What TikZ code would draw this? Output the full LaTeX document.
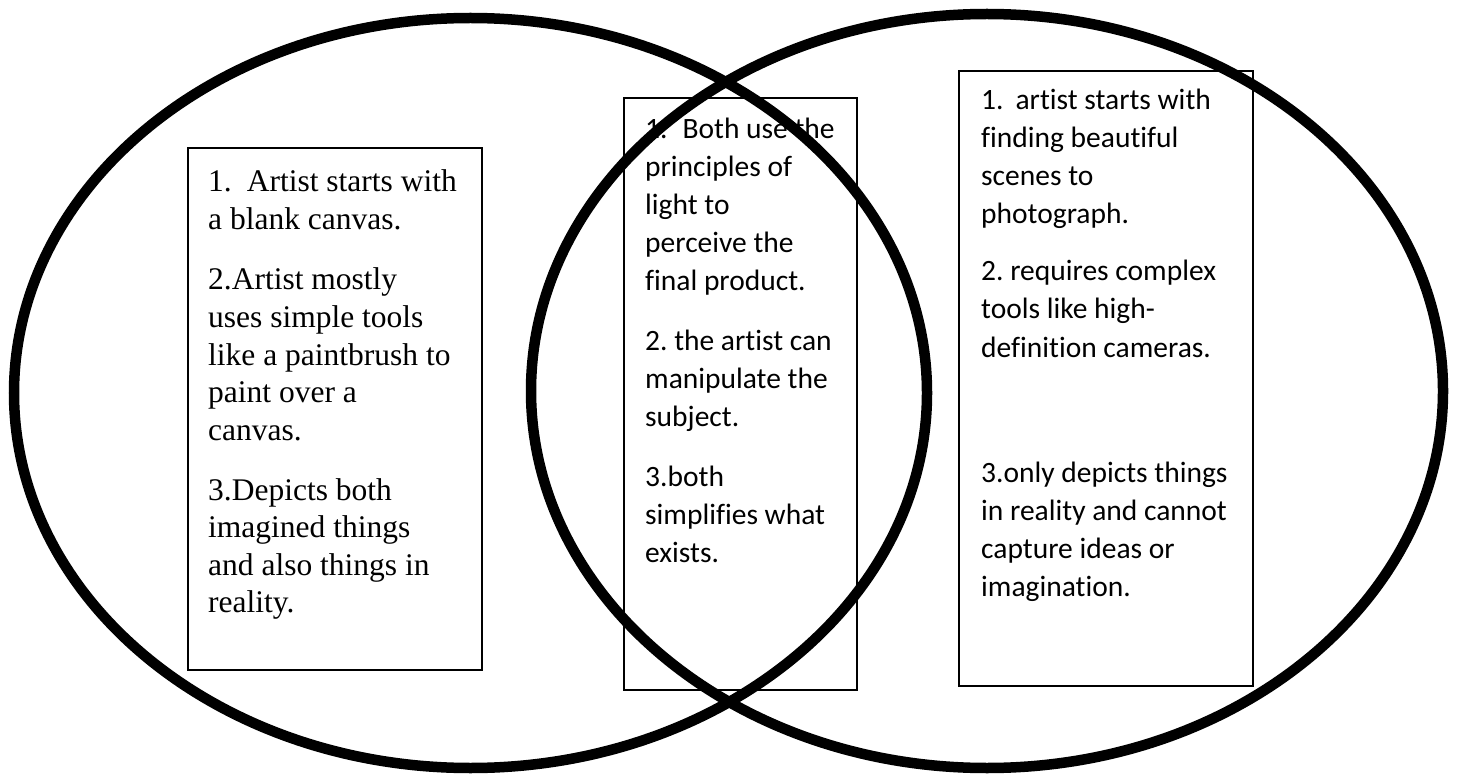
\documentclass[tikz,border=0pt]{standalone}
\usepackage{fontspec}
\newfontfamily\tnr{Liberation Serif}
\newfontfamily\calib[Ligatures=NoCommon]{Carlito}
\frenchspacing
\tikzset{
  venn/.style={draw=black, line width=10.5pt},
  txtbox/.style={draw=black, fill=white, line width=1.7pt, anchor=north west, inner sep=0pt},
  sline/.style={anchor=base west, inner sep=0pt, font=\tnr\fontsize{31.5}{38}\selectfont},
  cline/.style={anchor=base west, inner sep=0pt, font=\calib\fontsize{29.5}{37}\selectfont}
}
\begin{document}
\begin{tikzpicture}[x=1pt,y=-1pt]
\useasboundingbox (0,0) rectangle (1458,775);
\fill[white] (0,0) rectangle (1458,775);
% boxes
\node[txtbox, minimum width=294pt, minimum height=522pt] (lbox) at (187,147) {};
\node[txtbox, minimum width=233pt, minimum height=592pt] (mbox) at (623,97) {};
\node[txtbox, minimum width=294pt, minimum height=615pt] (rbox) at (958,70) {};
% left text
\node[sline] (l1) at (208,192) {1.\hspace{15pt}Artist starts with};
\node[sline] (l2) at (208,229.5) {a blank canvas.};
\node[sline] (l3) at (208,290) {2.Artist mostly};
\node[sline] (l4) at (208,327.5) {uses simple tools};
\node[sline] (l5) at (208,365) {like a paintbrush to};
\node[sline] (l6) at (208,402.5) {paint over a};
\node[sline] (l7) at (208,440) {canvas.};
\node[sline] (l8) at (208,500) {3.Depicts both};
\node[sline] (l9) at (208,537.5) {imagined things};
\node[sline] (l10) at (208,575) {and also things in};
\node[sline] (l11) at (208,612.5) {reality.};
% middle text
\node[cline] (m1) at (645,139) {1.\hspace{15pt}Both use the};
\node[cline] (m2) at (645,177) {principles of};
\node[cline] (m3) at (645,215) {light to};
\node[cline] (m4) at (645,253) {perceive the};
\node[cline] (m5) at (645,291) {final product.};
\node[cline] (m6) at (645,350) {2. the artist can};
\node[cline] (m7) at (645,388) {manipulate the};
\node[cline] (m8) at (645,426) {subject.};
\node[cline] (m9) at (645,486) {3.both};
\node[cline] (m10) at (645,524) {simplifies what};
\node[cline] (m11) at (645,562) {exists.};
% right text
\node[cline] (r1) at (981,110) {1.\hspace{12pt}artist starts with};
\node[cline] (r2) at (981,148) {finding beautiful};
\node[cline] (r3) at (981,186) {scenes to};
\node[cline] (r4) at (981,224) {photograph.};
\node[cline] (r5) at (981,281) {2. requires complex};
\node[cline] (r6) at (981,319) {tools like high-};
\node[cline] (r7) at (981,357) {definition cameras.};
\node[cline] (r8) at (981,482) {3.only depicts things};
\node[cline] (r9) at (981,520) {in reality and cannot};
\node[cline] (r10) at (981,558) {capture ideas or};
\node[cline] (r11) at (981,596) {imagination.};
% ellipses
\draw[venn] (470.5,393) ellipse [x radius=456.5pt, y radius=375pt];
\draw[venn] (987,391) ellipse [x radius=456pt, y radius=377pt];
\end{tikzpicture}
\end{document}
